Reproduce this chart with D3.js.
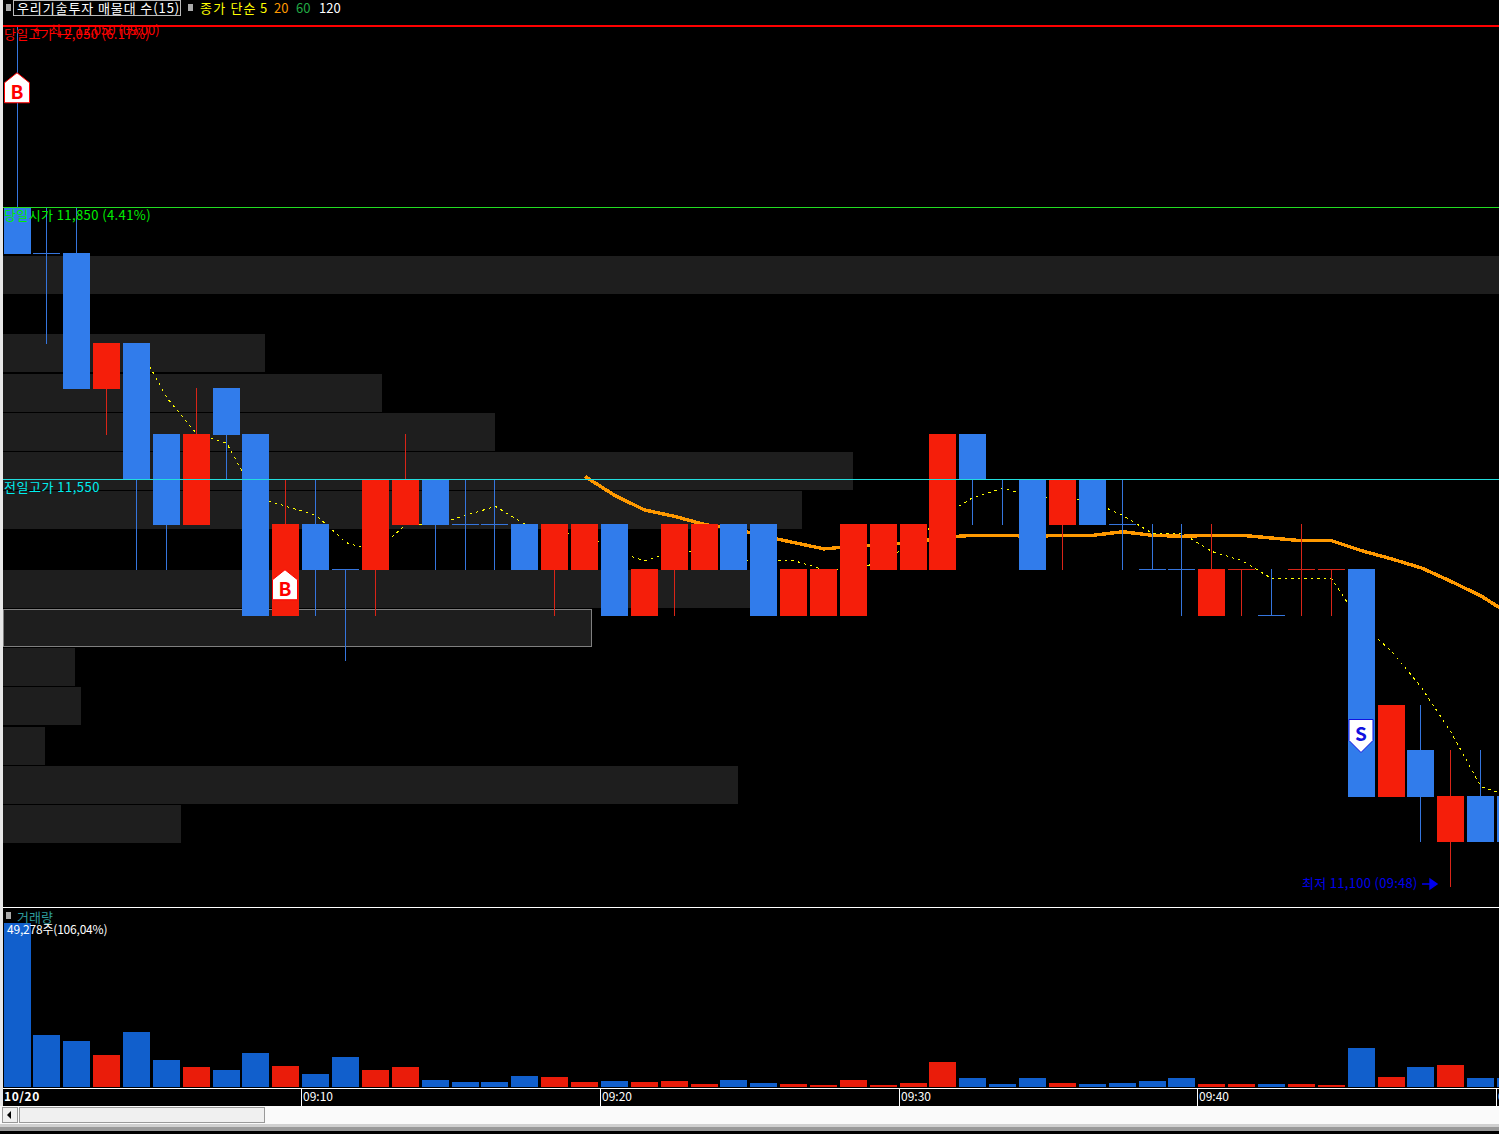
<!DOCTYPE html>
<html><head><meta charset="utf-8">
<script src="https://cdn.jsdelivr.net/npm/d3@7"></script>
<style>html,body{margin:0;padding:0;background:#000;overflow:hidden}svg{display:block}text{font-family:"Noto Sans CJK KR","Noto Sans",sans-serif;font-size:12px}</style>
</head><body><svg id="c" width="1499" height="1134"></svg>
<script>
const opens=[11850,11800,11800,11650,11700,11600,11500,11650,11600,11400,11500,11450,11450,11500,11550,11500,11500,11500,11450,11450,11500,11400,11450,11450,11500,11500,11400,11400,11400,11450,11450,11450,11600,11550,11550,11500,11550,11500,11450,11450,11400,11450,11400,11450,11450,11450,11200,11250,11150,11200,11200];
const closes=[11800,11800,11650,11700,11550,11500,11600,11600,11400,11500,11450,11450,11550,11550,11500,11500,11500,11450,11500,11500,11400,11450,11500,11500,11450,11400,11450,11450,11500,11500,11500,11600,11550,11550,11450,11550,11500,11500,11450,11450,11450,11450,11400,11450,11450,11200,11300,11200,11200,11150,11150];
const highs=[12050,11850,11850,11700,11700,11600,11650,11650,11600,11550,11550,11450,11550,11600,11550,11550,11550,11500,11500,11500,11500,11450,11500,11500,11500,11500,11450,11450,11500,11500,11500,11600,11600,11550,11550,11550,11550,11550,11500,11500,11500,11450,11450,11500,11450,11450,11300,11300,11250,11250,11200];
const lows=[11800,11700,11650,11600,11450,11450,11500,11550,11400,11400,11400,11350,11400,11500,11450,11450,11450,11450,11400,11450,11400,11400,11400,11450,11450,11400,11400,11400,11400,11450,11450,11450,11500,11500,11450,11450,11500,11450,11450,11400,11400,11400,11400,11400,11400,11200,11200,11150,11100,11150,11150];
const isUp=[0,0,0,1,0,0,1,0,0,1,0,0,1,1,0,0,0,0,1,1,0,1,1,1,0,0,1,1,1,1,1,1,0,0,0,1,0,0,0,0,1,1,0,1,1,0,1,0,1,0,0];
const ma5=[null,null,null,null,11700,11640,11600,11590,11530,11520,11510,11480,11470,11500,11500,11510,11520,11500,11490,11490,11470,11460,11470,11470,11460,11460,11460,11450,11450,11460,11480,11510,11530,11540,11530,11530,11525,11510,11490,11490,11470,11460,11440,11440,11440,11390,11360,11320,11270,11210,11200];
const ma20=[11553,11532,11516,11509,11500,11495,11487,11480,11473,11476,11478,11480,11486,11488,11488,11487,11488,11488,11492,11488,11487,11488,11488,11485,11482,11482,11471,11462,11452,11437,11421,11400];
const ma20Start=19;
const volumes=[49278,15600,13800,9600,16500,8100,6000,5100,10200,6300,3900,9000,5100,6000,2100,1500,1500,3300,3000,1500,1800,1500,1800,900,2100,1200,900,600,2100,600,1200,7500,2700,900,2700,1200,900,1200,1800,2700,900,900,900,900,600,11700,3000,6000,6600,2700,2700];
const profile=[100,0,17.48,25.3,32.85,56.8,53.4,0,50.2,39.34,4.78,5.18,2.78,49.1,11.87];
const timeLabels=["09:10","09:20","09:30","09:40","09:50"];
const timeIdx=[9.5,19.5,29.5,39.5,49.5];

const svg=d3.select("#c");
const crisp=s=>s.attr("shape-rendering","crispEdges");
const BLUE="#317ceb",RED="#f51e0a",VB="#115fcc",VR="#ea1c0a",WB="#3575dd",WR="#d92518";
const x=d3.scaleLinear().domain([0,50]).range([17.54,1510.99]);
const bw=27;
const left=i=>Math.floor(x(i)-13.5);
const y=d3.scaleLinear().domain([11100,12050]).range([886.5,26.75]);
const fy=p=>Math.floor(y(p));
const pb=d3.scaleBand().domain(d3.range(15)).range([256,843.5]).paddingInner(0.02);
const px=d3.scaleLinear().domain([0,100]).range([3,1499]);
const vy=d3.scaleLinear().domain([0,49278]).range([1087,923]);
const r=v=>Math.round(v);

svg.append("rect").attr("width",1499).attr("height",1134).attr("fill","#000");
// profile bands
profile.forEach((v,i)=>{ if(!v) return;
  svg.append("rect").attr("x",3.5).attr("y",r(pb(i))+.5).attr("width",px(v)-3.5).attr("height",r(pb.bandwidth())-1)
    .attr("fill","#1e1e1e").attr("stroke",i===9?"#808080":"#1e1e1e").call(crisp);
});
// MAs
const ln=d3.line().defined(d=>d.v!=null).x(d=>x(d.i)).y(d=>y(d.v));
svg.append("path").attr("d",ln(ma5.map((v,i)=>({i,v})))).attr("fill","none").attr("stroke","#ffff00").attr("stroke-width",1).attr("stroke-dasharray","2.5,4").call(crisp);
svg.append("path").attr("d",ln(ma20.map((v,i)=>({i:i+ma20Start,v})))).attr("fill","none").attr("stroke","#ff9900").attr("stroke-width",3.4).call(crisp);
// candles
opens.forEach((o,i)=>{
  const c=closes[i],t=isUp[i],col=t===1?RED:BLUE,wcol=t===1?WR:WB;
  const cx=left(i)+13;
  svg.append("line").attr("x1",cx+.5).attr("x2",cx+.5).attr("y1",fy(highs[i])).attr("y2",fy(lows[i])+1).attr("stroke",wcol).call(crisp);
  if(o===c){
    svg.append("line").attr("x1",left(i)).attr("x2",left(i)+bw).attr("y1",fy(c)+.5).attr("y2",fy(c)+.5).attr("stroke",wcol).call(crisp);
  } else {
    const top=fy(Math.max(o,c)),bot=fy(Math.min(o,c))+1;
    svg.append("rect").attr("x",left(i)).attr("width",bw).attr("y",top).attr("height",bot-top).attr("fill",col).call(crisp);
  }
});
// price reference lines
const hl=(p,col,w)=>svg.append("line").attr("x1",3).attr("x2",1499).attr("y1",fy(p)-.0).attr("y2",fy(p)-.0).attr("stroke",col).attr("stroke-width",w||1).call(crisp);
hl(12050,"#ff0000",2);
const hl1=(p,col)=>svg.append("line").attr("x1",3).attr("x2",1499).attr("y1",fy(p)+.5).attr("y2",fy(p)+.5).attr("stroke",col).call(crisp);
hl1(11850,"#22dd22");hl1(11550,"#22dddd");
const txt=(s,tx,ty,col,opt={})=>svg.append("text").attr("x",tx).attr("y",ty).attr("fill",col).attr("font-weight",opt.w||400)
  .style("font-size",(opt.s||13)+"px").style("letter-spacing",(opt.ls==null?0.5:opt.ls)+"px").text(s);
txt("당일고가 +2,050 (6.17%)",4,39,"#ff0000",{ls:.35});
txt("← 최고 12,050 (09:00)",33,35,"#ff0000",{ls:0});
txt("당일시가 11,850 (4.41%)",4,220,"#00ee00",{ls:.4});
txt("전일고가 11,550",4,492,"#00eeee");
txt("최저 11,100 (09:48)",1302,888,"#0000ee",{ls:.3});
svg.append("path").attr("d","M1422 884H1432M1430 879L1437 884L1430 889Z").attr("stroke","#0000ee").attr("stroke-width",1.4).attr("fill","#0000ee");
// signal markers
const tag=(i,p,off,up,col,l)=>{
  const cx=left(i)+13,cy=y(p)+off;
  const pts=up?[[0,-15],[12.5,-5],[12.5,15],[-12.5,15],[-12.5,-5]]:[[-12,-16],[12,-16],[12,5],[0,17],[-12,5]];
  svg.append("polygon").attr("points",pts.map(q=>[cx+q[0],cy+q[1]].join(",")).join(" ")).attr("fill","#fff").attr("stroke",col);
  svg.append("text").attr("x",cx).attr("y",cy+(up?11:5)).attr("text-anchor","middle").attr("fill",col).attr("font-weight",700).style("font-size","19px").text(l);
};
tag(0,12050,61,true,"#ff0000","B");
tag(9,11450,15,true,"#ff0000","B");
tag(45,11300,30,false,"#1010e0","S");
// volume
volumes.forEach((v,i)=>{
  svg.append("rect").attr("x",left(i)).attr("width",bw).attr("y",r(vy(v))).attr("height",1087-r(vy(v))).attr("fill",isUp[i]===1?VR:VB).call(crisp);
});
// panel lines
svg.append("line").attr("x1",3).attr("x2",1499).attr("y1",907.5).attr("y2",907.5).attr("stroke","#fff").call(crisp);
svg.append("line").attr("x1",3).attr("x2",1499).attr("y1",1088.5).attr("y2",1088.5).attr("stroke","#fff").call(crisp);
// header
svg.append("rect").attr("x",6).attr("y",4).attr("width",5).attr("height",7).attr("fill","#aaa");
svg.append("rect").attr("x",13.5).attr("y",0.5).attr("width",167).attr("height",15).attr("fill","none").attr("stroke","#bbb");
txt("우리기술투자 매물대 수(15)",17,13,"#fff",{ls:.9});
svg.append("rect").attr("x",188).attr("y",4).attr("width",5).attr("height",7).attr("fill","#aaa");
txt("종가 단순",200,13,"#ffff00",{ls:1.2});txt("5",260,13,"#ffff00",{ls:0});txt("20",274,13,"#ff9900",{ls:0});txt("60",296,13,"#22aa44",{ls:0});txt("120",319,13,"#fff",{ls:0});
svg.append("rect").attr("x",6).attr("y",912).attr("width",5).attr("height",7).attr("fill","#aaa");
txt("거래량",17,922,"#2e9c9c",{ls:0});
txt("49,278주(106,04%)",7,934,"#fff",{s:12,ls:-.2});
// time axis
txt("10/20",4,1101,"#fff",{s:12,w:700,ls:.6});
timeLabels.forEach((t,i)=>{
  const tx=r(x(timeIdx[i]));
  svg.append("line").attr("x1",tx+.5).attr("x2",tx+.5).attr("y1",1089).attr("y2",1106).attr("stroke","#fff").call(crisp);
  txt(t,tx+2,1101,"#fff",{s:12,ls:0});
});
// scrollbar & frame
svg.append("rect").attr("x",0).attr("y",1106).attr("width",1499).attr("height",18).attr("fill","#fafafa");
svg.append("rect").attr("x",2.5).attr("y",1107.5).attr("width",15).attr("height",15).attr("fill","#f0f0f0").attr("stroke","#999").call(crisp);
svg.append("path").attr("d","M7 1115L11 1111V1119Z").attr("fill","#000");
svg.append("rect").attr("x",19.5).attr("y",1107.5).attr("width",245).attr("height",15).attr("fill","#f0f0f0").attr("stroke","#999").call(crisp);
svg.append("rect").attr("x",0).attr("y",1124).attr("width",1499).attr("height",3).attr("fill","#d0d0d0");
svg.append("rect").attr("x",0).attr("y",1127).attr("width",1499).attr("height",4).attr("fill","#999");
svg.append("rect").attr("x",0).attr("y",0).attr("width",3).attr("height",1106).attr("fill","#e8e8e8");
</script></body></html>
